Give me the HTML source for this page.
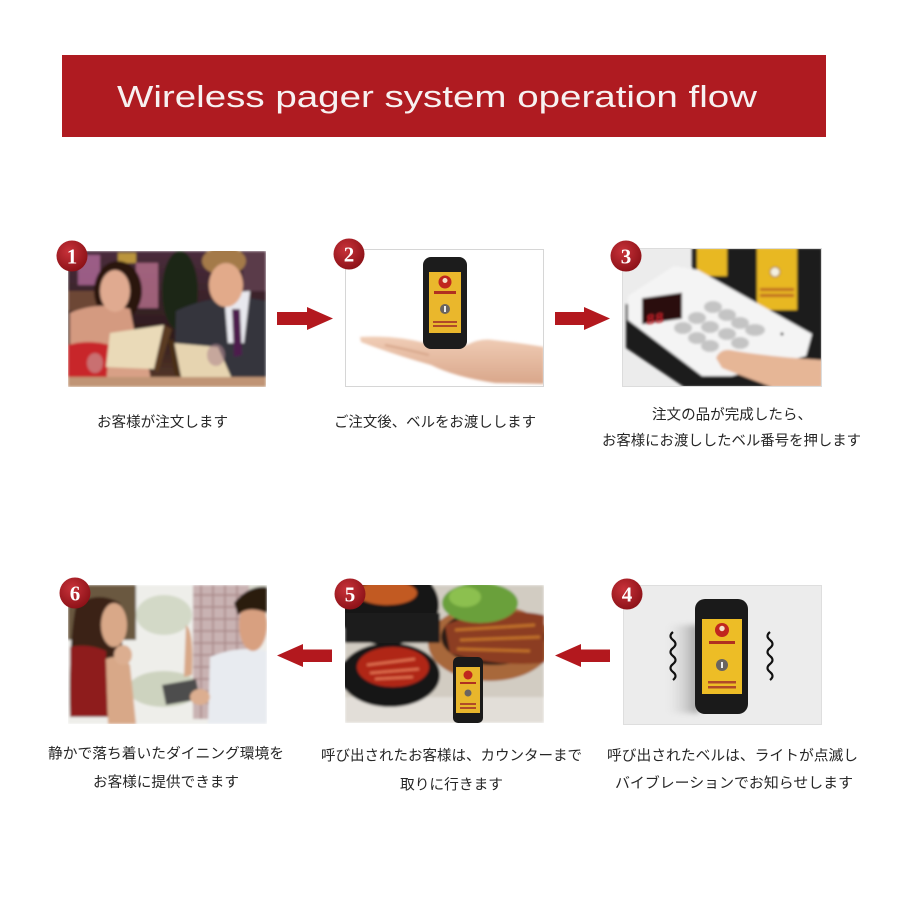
<!DOCTYPE html>
<html>
<head>
<meta charset="utf-8">
<style>
  html,body{margin:0;padding:0;background:#fff;}
  svg{display:block;}
  .cap{font-family:"Liberation Sans","Noto Sans CJK JP",sans-serif;font-size:14.5px;fill:#262626;}
</style>
</head>
<body>
<svg width="900" height="900" viewBox="0 0 900 900" xmlns="http://www.w3.org/2000/svg">
  <defs>
    <radialGradient id="badge" cx="40%" cy="35%" r="70%">
      <stop offset="0" stop-color="#c8323a"/>
      <stop offset="1" stop-color="#8a1016"/>
    </radialGradient>
    <filter id="soft" x="-5%" y="-5%" width="110%" height="110%">
      <feGaussianBlur stdDeviation="1.2"/>
    </filter>
    <filter id="soft2" x="-20%" y="-20%" width="140%" height="140%">
      <feGaussianBlur stdDeviation="3"/>
    </filter>
    <clipPath id="c1"><rect x="0" y="0" width="198" height="136"/></clipPath>
    <clipPath id="c2"><rect x="0" y="0" width="199" height="138"/></clipPath>
    <clipPath id="c3"><rect x="0" y="0" width="200" height="139"/></clipPath>
    <clipPath id="c4"><rect x="0" y="0" width="199" height="140"/></clipPath>
    <clipPath id="c5"><rect x="0" y="0" width="199" height="138"/></clipPath>
    <clipPath id="c6"><rect x="0" y="0" width="199" height="139"/></clipPath>
    <linearGradient id="bg1" x1="0" y1="0" x2="0" y2="1">
      <stop offset="0" stop-color="#4a2c3c"/>
      <stop offset="0.6" stop-color="#2e1c1c"/>
      <stop offset="1" stop-color="#5a3a2a"/>
    </linearGradient>
    <linearGradient id="hand" x1="0" y1="0" x2="0" y2="1">
      <stop offset="0" stop-color="#f0cdb6"/>
      <stop offset="1" stop-color="#d9a68a"/>
    </linearGradient>
    <linearGradient id="shadow4" x1="0" y1="0" x2="1" y2="0">
      <stop offset="0" stop-color="#ececec" stop-opacity="0"/>
      <stop offset="1" stop-color="#8a8a8a" stop-opacity="0.8"/>
    </linearGradient>
  </defs>

  <!-- Header -->
  <rect x="62" y="55" width="764" height="82" fill="#af1b21"/>
  <text x="117" y="107" textLength="640" lengthAdjust="spacingAndGlyphs"
        font-family="Liberation Sans, DejaVu Sans, sans-serif" font-size="31" fill="#f7f1f1">Wireless pager system operation flow</text>

  <!-- ============ Image 1: couple reading menus ============ -->
  <g transform="translate(68,251)">
    <g clip-path="url(#c1)">
      <g filter="url(#soft)">
        <rect x="0" y="0" width="198" height="136" fill="url(#bg1)"/>
        <!-- lights -->
        <rect x="10" y="4" width="22" height="30" fill="#b06a9a" opacity="0.8"/>
        <rect x="50" y="2" width="18" height="10" fill="#d8b040" opacity="0.8"/>
        <rect x="68" y="12" width="22" height="45" fill="#c77a9a" opacity="0.7"/>
        <rect x="0" y="40" width="30" height="20" fill="#7a5038" opacity="0.8"/>
        <rect x="175" y="0" width="23" height="40" fill="#5a3a48"/>
        <!-- plant -->
        <ellipse cx="112" cy="40" rx="18" ry="40" fill="#1e2818"/>
        <!-- woman hair -->
        <ellipse cx="50" cy="40" rx="24" ry="30" fill="#2a1610"/>
        <!-- chest / neck skin -->
        <path d="M2,62 Q30,50 62,58 L70,98 L2,100 Z" fill="#d49a80"/>
        <!-- face -->
        <ellipse cx="47" cy="40" rx="15" ry="21" fill="#e0aa90"/>
        <!-- red dress -->
        <path d="M0,94 Q20,88 42,94 L44,136 L0,136 Z" fill="#c8262c"/>
        <!-- arm -->
        <path d="M40,110 Q60,100 80,112 L84,136 L38,136 Z" fill="#d8a086"/>
        <!-- left menu -->
        <path d="M42,82 L96,74 L86,118 L38,116 Z" fill="#eadab8"/>
        <path d="M96,74 L104,78 L90,122 L86,118 Z" fill="#5a3a20"/>
        <!-- man suit -->
        <path d="M108,60 Q150,40 198,50 L198,136 L106,136 Z" fill="#34343e"/>
        <!-- shirt -->
        <path d="M156,42 L182,40 L176,92 L160,92 Z" fill="#e8e8ee"/>
        <!-- tie -->
        <path d="M164,58 L172,58 L174,104 L166,106 Z" fill="#4e1e4e"/>
        <!-- man hair -->
        <ellipse cx="156" cy="10" rx="22" ry="14" fill="#a47a48"/>
        <!-- face -->
        <ellipse cx="158" cy="34" rx="17" ry="22" fill="#e2aa8a"/>
        <!-- right menu -->
        <path d="M104,92 L150,96 L164,128 L112,130 Z" fill="#e6d4b0"/>
        <path d="M100,88 L106,90 L114,130 L108,132 Z" fill="#4a2e18"/>
        <!-- glasses -->
        <ellipse cx="27" cy="112" rx="8" ry="10" fill="#c9a0a0" opacity="0.6"/>
        <ellipse cx="148" cy="104" rx="9" ry="11" fill="#b08890" opacity="0.6"/>
        <!-- table light -->
        <rect x="0" y="126" width="198" height="10" fill="#c09474"/>
      </g>
    </g>
  </g>

  <!-- ============ Image 2: phone on hand ============ -->
  <g transform="translate(345,249)">
    <g clip-path="url(#c2)">
      <rect x="0" y="0" width="199" height="138" fill="#ffffff"/>
      <g filter="url(#soft)">
        <path d="M15,88 Q50,86 80,94 L122,96 Q135,89 148,91 Q175,94 199,98 L199,135 L150,134 Q110,128 86,116 Q50,106 16,93 Z" fill="url(#hand)"/>
        <path d="M40,96 Q60,100 84,106" stroke="#d6a488" stroke-width="2" fill="none"/>
      </g>
      <rect x="78" y="8" width="44" height="92" rx="8" fill="#1c1c1c"/>
      <rect x="84" y="23" width="32" height="61" fill="#eab72c"/>
      <circle cx="100" cy="33" r="6.5" fill="#c0261e"/>
      <circle cx="100" cy="31.5" r="2.5" fill="#f5e0c8"/>
      <rect x="89" y="42" width="22" height="3" fill="#b03020"/>
      <circle cx="100" cy="60" r="5" fill="#6a6460"/>
      <rect x="99" y="57" width="2" height="6" fill="#eee"/>
      <rect x="88" y="72" width="24" height="2" fill="#b04a28"/>
      <rect x="88" y="76" width="24" height="2" fill="#b04a28"/>
    </g>
    <rect x="0.5" y="0.5" width="198" height="137" fill="none" stroke="#d6d6d6"/>
  </g>

  <!-- ============ Image 3: transmitter keypad ============ -->
  <g transform="translate(622,248)">
    <g clip-path="url(#c3)">
      <rect x="0" y="0" width="200" height="139" fill="#ececec"/>
      <g filter="url(#soft)">
        <!-- tower -->
        <rect x="70" y="0" width="130" height="92" fill="#1a1a1a"/>
        <rect x="75" y="0" width="30" height="28" fill="#e8b820"/>
        <rect x="135" y="0" width="40" height="62" fill="#e8b820"/>
        <circle cx="153" cy="24" r="5" fill="#f4f0e0" stroke="#a07010" stroke-width="1"/>
        <rect x="138" y="40" width="34" height="3" fill="#c06a20"/>
        <rect x="138" y="46" width="34" height="3" fill="#c06a20"/>
        <!-- base -->
        <path d="M4,56 L200,70 L200,139 L62,139 L4,100 Z" fill="#1c1c1c"/>
        <!-- white panel -->
        <path d="M6,48 L52,18 L76,22 L190,86 L184,108 L110,128 L80,128 L6,72 Z" fill="#f4f4f4"/>
        <!-- LED -->
        <rect x="20" y="47" width="40" height="26" fill="#2a0e0e" transform="skewY(-8) translate(0,6)"/>
        <!-- buttons -->
        <g fill="#c4c4c4">
          <ellipse cx="91" cy="59" rx="9" ry="6"/>
          <ellipse cx="75" cy="70" rx="9" ry="6"/>
          <ellipse cx="105" cy="67" rx="9" ry="6"/>
          <ellipse cx="61" cy="80" rx="9" ry="6"/>
          <ellipse cx="88" cy="79" rx="9" ry="6"/>
          <ellipse cx="118" cy="75" rx="9" ry="6"/>
          <ellipse cx="75" cy="90" rx="9" ry="6"/>
          <ellipse cx="105" cy="86" rx="9" ry="6"/>
          <ellipse cx="133" cy="82" rx="10" ry="6"/>
          <ellipse cx="88" cy="98" rx="9" ry="6"/>
          <ellipse cx="118" cy="95" rx="9" ry="6"/>
        </g>
        <circle cx="160" cy="86" r="1.5" fill="#222"/>
        <!-- finger -->
        <path d="M94,110 Q98,101 108,102 Q140,108 200,112 L200,139 L150,139 Q120,128 100,120 Z" fill="#e6b696"/>
      </g>
      <text x="24" y="72" font-family="Liberation Mono, monospace" font-size="15" font-weight="bold" fill="#d8222a" transform="skewY(-8) translate(0,8)" filter="url(#soft)">88</text>
    </g>
    <rect x="0.5" y="0.5" width="199" height="138" fill="none" stroke="#dcdcdc"/>
  </g>

  <!-- ============ Image 4: vibrating pager ============ -->
  <g transform="translate(623,585)">
    <g clip-path="url(#c4)">
      <rect x="0" y="0" width="199" height="140" fill="#ececec"/>
      <rect x="40" y="40" width="36" height="88" fill="url(#shadow4)" filter="url(#soft2)"/>
      <rect x="72" y="14" width="53" height="115" rx="10" fill="#1a1a1a"/>
      <rect x="79" y="34" width="40" height="75" fill="#edbd26"/>
      <circle cx="99" cy="45" r="7" fill="#c0261e"/>
      <circle cx="99" cy="43.5" r="2.7" fill="#f5e0c8"/>
      <rect x="86" y="56" width="26" height="3" fill="#b03020"/>
      <circle cx="99" cy="80" r="6" fill="#6a6460"/>
      <rect x="98" y="77" width="2" height="6" fill="#eee"/>
      <rect x="85" y="96" width="28" height="2.5" fill="#b04a28"/>
      <rect x="85" y="101" width="28" height="2.5" fill="#b04a28"/>
      <path d="M50,47 q-5,4 0,8 q5,4 0,8 q-5,4 0,8 q5,4 0,8 q-5,4 0,8 q5,4 0,8" fill="none" stroke="#111" stroke-width="2.2"/>
      <path d="M147,47 q-5,4 0,8 q5,4 0,8 q-5,4 0,8 q5,4 0,8 q-5,4 0,8 q5,4 0,8" fill="none" stroke="#111" stroke-width="2.2"/>
    </g>
    <rect x="0.5" y="0.5" width="198" height="139" fill="none" stroke="#dedede"/>
  </g>

  <!-- ============ Image 5: food with pager ============ -->
  <g transform="translate(345,585)">
    <g clip-path="url(#c5)">
      <g filter="url(#soft)">
        <rect x="0" y="0" width="199" height="138" fill="#d2ccc2"/>
        <rect x="0" y="112" width="199" height="26" fill="#e2ded8"/>
        <!-- wooden plate -->
        <ellipse cx="145" cy="58" rx="62" ry="38" fill="#a8683a"/>
        <ellipse cx="148" cy="52" rx="52" ry="28" fill="#2a1a14"/>
        <!-- meat -->
        <path d="M100,40 Q150,20 199,30 L199,78 Q150,82 105,68 Z" fill="#8c3c20"/>
        <path d="M110,45 L190,40 M115,55 L195,52 M112,64 L185,66" stroke="#c0702c" stroke-width="3" fill="none"/>
        <!-- salad -->
        <ellipse cx="135" cy="18" rx="38" ry="20" fill="#6aa03a"/>
        <ellipse cx="120" cy="12" rx="16" ry="10" fill="#8cc050"/>
        <!-- stone pot top-left -->
        <ellipse cx="42" cy="20" rx="52" ry="40" fill="#161616"/>
        <ellipse cx="42" cy="8" rx="30" ry="12" fill="#c25a22"/>
        <rect x="0" y="28" width="95" height="30" fill="#1e1e1e"/>
        <!-- bowl bottom-left -->
        <ellipse cx="45" cy="90" rx="50" ry="32" fill="#141414"/>
        <ellipse cx="48" cy="82" rx="36" ry="20" fill="#b02818"/>
        <path d="M22,80 L70,74 M25,88 L74,84 M30,94 L68,92" stroke="#e07050" stroke-width="2.5" fill="none"/>
      </g>
      <!-- phone -->
      <rect x="108" y="72" width="30" height="66" rx="5" fill="#1a1a1a"/>
      <rect x="111" y="82" width="24" height="46" fill="#e8b62c"/>
      <circle cx="123" cy="90" r="4.5" fill="#c0261e"/>
      <rect x="115" y="97" width="16" height="2" fill="#b03020"/>
      <circle cx="123" cy="108" r="3.5" fill="#6a6460"/>
      <rect x="115" y="118" width="16" height="2" fill="#b04a28"/>
      <rect x="115" y="122" width="16" height="2" fill="#b04a28"/>
    </g>
  </g>

  <!-- ============ Image 6: dining scene ============ -->
  <g transform="translate(68,585)">
    <g clip-path="url(#c6)">
      <g filter="url(#soft)">
        <rect x="0" y="0" width="199" height="139" fill="#eeeeea"/>
        <rect x="0" y="0" width="68" height="55" fill="#6a5840"/>
        <rect x="130" y="0" width="69" height="30" fill="#d8d8cc"/>
        <ellipse cx="96" cy="30" rx="28" ry="20" fill="#c8d0b8" opacity="0.7"/>
        <ellipse cx="96" cy="104" rx="36" ry="18" fill="#c4ccb4" opacity="0.8"/>
        <!-- waiter plaid -->
        <rect x="125" y="0" width="56" height="134" fill="#c9b2b2"/>
        <g stroke="#a88888" stroke-width="1.5">
          <path d="M125,10 H181 M125,22 H181 M125,34 H181 M125,46 H181 M125,58 H181 M125,70 H181 M125,82 H181 M125,94 H181 M125,106 H181 M125,118 H181"/>
          <path d="M133,0 V134 M145,0 V134 M157,0 V134 M169,0 V134"/>
        </g>
        <path d="M118,40 Q126,45 124,90 L116,92 Z" fill="#d8a888"/>
        <!-- woman -->
        <path d="M8,20 Q30,5 52,18 Q58,60 48,132 L2,132 Q0,60 8,20 Z" fill="#3a2418"/>
        <ellipse cx="46" cy="40" rx="13" ry="22" fill="#d9a888"/>
        <path d="M2,62 Q20,58 38,66 L40,132 L2,132 Z" fill="#8e1e1e"/>
        <path d="M38,74 Q52,68 62,80 L68,139 L40,139 Z" fill="#d8a888"/>
        <ellipse cx="55" cy="70" rx="9" ry="10" fill="#dcae90"/>
        <!-- man -->
        <path d="M142,72 Q170,60 199,66 L199,139 L140,139 Z" fill="#e8ebf0"/>
        <ellipse cx="185" cy="40" rx="14" ry="26" fill="#d8a080"/>
        <path d="M166,18 Q180,0 199,2 L199,28 Q180,20 170,30 Z" fill="#2a1a10"/>
        <!-- tablet -->
        <path d="M94,100 L128,94 L132,114 L98,120 Z" fill="#4e4e4e"/>
        <ellipse cx="132" cy="112" rx="10" ry="8" fill="#dcae90"/>
      </g>
    </g>
  </g>

  <!-- Arrows -->
  <g fill="#b3181e">
    <polygon points="277,312 307,312 307,307 333,318.5 307,330 307,325 277,325"/>
    <polygon points="555,312 584,312 584,307 610,318.5 584,330 584,325 555,325"/>
    <polygon points="332,649.5 303,649.5 303,644 277,655.5 303,667 303,662 332,662"/>
    <polygon points="610,649.5 581,649.5 581,644 555,655.5 581,667 581,662 610,662"/>
  </g>

  <!-- Badges -->
  <g font-family="Liberation Serif, serif" font-weight="bold" font-size="21" fill="#fff" text-anchor="middle">
    <circle cx="72" cy="256" r="15.5" fill="url(#badge)"/><text x="72" y="263.5">1</text>
    <circle cx="349" cy="254" r="15.5" fill="url(#badge)"/><text x="349" y="261.5">2</text>
    <circle cx="626" cy="256" r="15.5" fill="url(#badge)"/><text x="626" y="263.5">3</text>
    <circle cx="75" cy="593" r="15.5" fill="url(#badge)"/><text x="75" y="600.5">6</text>
    <circle cx="350" cy="594" r="15.5" fill="url(#badge)"/><text x="350" y="601.5">5</text>
    <circle cx="627" cy="594" r="15.5" fill="url(#badge)"/><text x="627" y="601.5">4</text>
  </g>

  <!-- Captions -->
  <text class="cap" x="97" y="427" textLength="131" lengthAdjust="spacingAndGlyphs">お客様が注文します</text>
  <text class="cap" x="334" y="427" textLength="202" lengthAdjust="spacingAndGlyphs">ご注文後、ベルをお渡しします</text>
  <text class="cap" x="652" y="419.5" textLength="160" lengthAdjust="spacingAndGlyphs">注文の品が完成したら、</text>
  <text class="cap" x="602" y="445.5" textLength="259" lengthAdjust="spacingAndGlyphs">お客様にお渡ししたベル番号を押します</text>

  <text class="cap" x="48" y="758.5" textLength="236" lengthAdjust="spacingAndGlyphs">静かで落ち着いたダイニング環境を</text>
  <text class="cap" x="93" y="787" textLength="146" lengthAdjust="spacingAndGlyphs">お客様に提供できます</text>
  <text class="cap" x="321" y="760.5" textLength="261" lengthAdjust="spacingAndGlyphs">呼び出されたお客様は、カウンターまで</text>
  <text class="cap" x="400" y="789.5" textLength="103" lengthAdjust="spacingAndGlyphs">取りに行きます</text>
  <text class="cap" x="607" y="760.5" textLength="251" lengthAdjust="spacingAndGlyphs">呼び出されたベルは、ライトが点滅し</text>
  <text class="cap" x="615" y="788" textLength="238" lengthAdjust="spacingAndGlyphs">バイブレーションでお知らせします</text>
</svg>
</body>
</html>
